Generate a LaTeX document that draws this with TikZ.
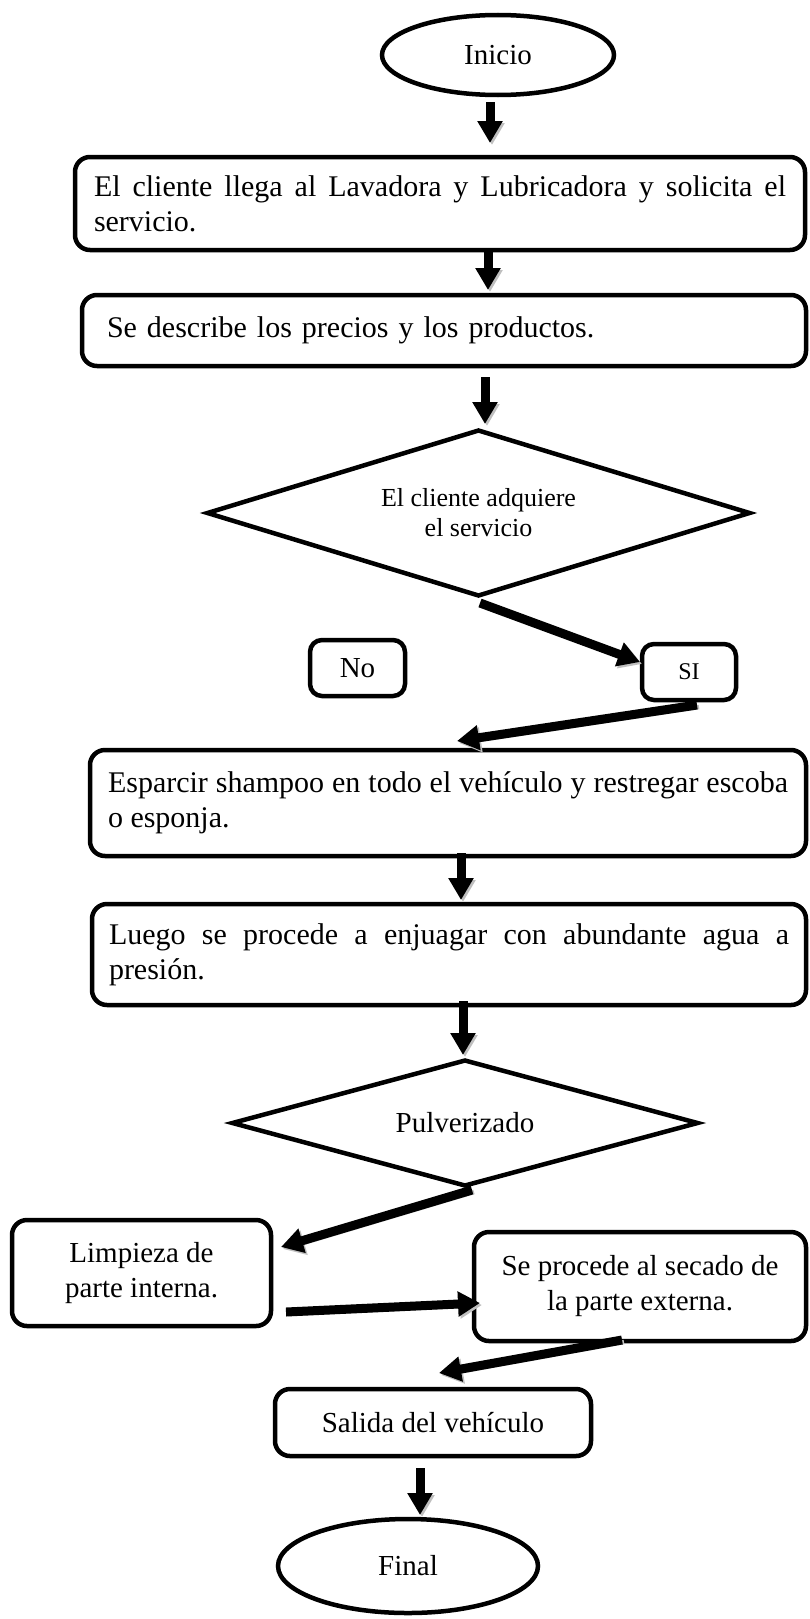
\documentclass[tikz,border=0pt]{standalone}
\usepackage{fontspec}
\setmainfont{Liberation Serif}
\usetikzlibrary{shapes.geometric, arrows.meta, calc}
\newcommand{\grande}{\fontsize{30}{35}\selectfont}
\newcommand{\normalito}{\fontsize{29}{35}\selectfont}
\newcommand{\mediana}{\fontsize{26}{30}\selectfont}
\newcommand{\chica}{\fontsize{24}{28}\selectfont}
\hyphenpenalty=10000
\exhyphenpenalty=10000

\begin{document}
\begin{tikzpicture}[x=1pt, y=-1pt, line width=4.5pt,
    caja/.style={draw, rounded corners=15pt, inner sep=0pt, outer sep=0pt},
    terminal/.style={draw, ellipse, inner sep=0pt, outer sep=0pt},
    decision/.style={draw, diamond, inner sep=0pt, outer sep=0pt, align=center},
    flecha/.style={line width=9pt, -{Triangle[width=24pt,length=22pt]},
        preaction={draw=gray!50, transform canvas={shift={(2pt,-2pt)}}}}]
    \useasboundingbox (0,0) rectangle (809,1619);

    \node[terminal, minimum width=232pt, minimum height=80pt, font=\normalito] (inicio) at (498,55) {Inicio};
    \node[caja, text width=692pt, minimum width=730pt, minimum height=93pt, align=justify, font=\grande] (paso1) at (440,203.5) {El cliente llega al Lavadora y Lubricadora y solicita el servicio.};
    \node[caja, text width=674pt, minimum width=724pt, minimum height=71pt, align=left, font=\grande] (paso2) at (444,330.5) {Se describe los precios y los productos.};
    \node[decision, minimum width=542pt, minimum height=165pt, aspect=3.3, font=\mediana] (pregunta) at (478.5,513) {El cliente adquiere\\el servicio};
    \node[caja, rounded corners=12pt, minimum width=95pt, minimum height=56pt, font=\normalito] (no) at (357.5,668) {No};
    \node[caja, rounded corners=12pt, minimum width=94pt, minimum height=56pt, font=\chica] (si) at (689,672) {SI};
    \node[caja, text width=680pt, minimum width=716pt, minimum height=106pt, align=justify, font=\grande] (paso3) at (448,803) {Esparcir shampoo en todo el vehículo y restregar escoba o esponja.};
    \node[caja, text width=680pt, minimum width=714pt, minimum height=101pt, align=justify, font=\grande] (paso4) at (449,954.5) {Luego se procede a enjuagar con abundante agua a presión.};
    \node[decision, minimum width=465pt, minimum height=125pt, aspect=3.7, font=\normalito] (pulverizado) at (465,1123) {Pulverizado};
    \node[caja, minimum width=259pt, minimum height=106pt, align=center, font=\normalito] (limpieza) at (141.5,1273) {Limpieza de\\parte interna.};
    \node[caja, minimum width=332pt, minimum height=109pt, align=center, font=\normalito] (secado) at (640,1286.5) {Se procede al secado de\\la parte externa.};
    \node[caja, minimum width=316pt, minimum height=67pt, font=\normalito] (salida) at (433,1422.5) {Salida del vehículo};
    \node[terminal, minimum width=260pt, minimum height=94pt, font=\normalito] (final) at (408,1566) {Final};

    \draw[flecha] ($(inicio.south)+(-8,7)$) -- ($(paso1.north)+(50,-14)$);
    \draw[flecha] ($(paso1.south)+(48,0)$) -- ($(paso2.north)+(44,-5)$);
    \draw[flecha] ($(paso2.south)+(41,11)$) -- ($(pregunta.north)+(6.5,-6.5)$);
    \draw[flecha] ($(pregunta.south)+(1.5,7.5)$) -- ($(si.west)+(-2,-10)$);
    \draw[flecha] ($(si.south)+(8,5)$) -- ($(paso3.north)+(9,-9)$);
    \draw[flecha] ($(paso3.south)+(13,-3)$) -- ($(paso4.north)+(12,-4)$);
    \draw[flecha] ($(paso4.south)+(14,-4)$) -- ($(pulverizado.north)+(-2,-5.5)$);
    \draw[flecha] ($(pulverizado.south)+(7,4.5)$) -- ($(limpieza.east)+(10,-26)$);
    \draw[flecha] ($(limpieza.east)+(15,39)$) -- ($(secado.west)+(6,16.5)$);
    \draw[flecha] ($(secado.south)+(-18,-1)$) -- ($(salida.north)+(6,-16)$);
    \draw[flecha] ($(salida.south)+(-13,12)$) -- ($(final.north)+(12,-4)$);
\end{tikzpicture}
\end{document}
